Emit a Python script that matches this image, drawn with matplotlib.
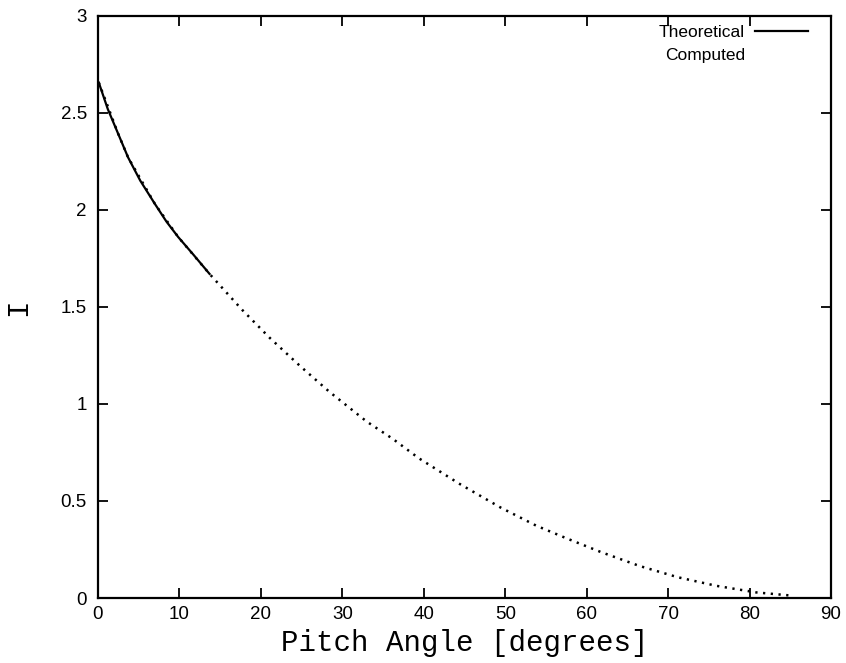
import matplotlib
matplotlib.use("Agg")
import matplotlib.pyplot as plt

# Theoretical curve (small-angle range)
theo_angle = [0.1, 1.2, 2.5, 3.7, 5.2, 7.0, 8.4, 9.85, 11.7, 13.7]
theo_I = [2.656, 2.52, 2.39, 2.27, 2.15, 2.03, 1.94, 1.86, 1.77, 1.67]

# Computed values over the full pitch-angle range
comp_angle = [0.1, 2.5, 3.7, 7.0, 9.85, 13.7, 17.7, 21.1, 24.8, 28.4, 33.0, 36.2,
              39.4, 44.4, 49.4, 53.8, 57.5, 61.8, 66.5, 71.2, 75.9, 80.8, 85.3]
comp_I = [2.656, 2.39, 2.27, 2.03, 1.86, 1.67, 1.485, 1.34, 1.196, 1.063, 0.909, 0.82,
          0.72, 0.588, 0.467, 0.373, 0.308, 0.236, 0.165, 0.107, 0.063, 0.029, 0.012]

x_ticks = [0, 10, 20, 30, 40, 50, 60, 70, 80, 90]
y_ticks = [0, 0.5, 1, 1.5, 2, 2.5, 3]
y_tick_labels = ["0", "0.5", "1", "1.5", "2", "2.5", "3"]

fig = plt.figure(figsize=(8.46, 6.63), dpi=100)
ax = fig.add_axes([0.1158, 0.098, 0.8665, 0.8782])

ax.plot(theo_angle, theo_I, color="black", lw=1.6, solid_joinstyle="round",
        label="Theoretical")
ax.plot(comp_angle, comp_I, color="black", lw=1.8, linestyle=(0, (0.9, 2.2)),
        label="Computed")

ax.set_xlim(0, 90)
ax.set_ylim(0, 3)
ax.set_xticks(x_ticks)
ax.set_yticks(y_ticks)
ax.set_yticklabels(y_tick_labels)

for lab in ax.get_xticklabels() + ax.get_yticklabels():
    lab.set_fontfamily("Liberation Sans")
    lab.set_fontsize(13.5)

ax.tick_params(direction="in", length=7, width=1.3, top=True, right=True,
               color="black")
ax.tick_params(axis="x", pad=6)
ax.tick_params(axis="y", pad=8)
for s in ax.spines.values():
    s.set_linewidth(1.6)

ax.set_xlabel("Pitch Angle [degrees]", family="Liberation Mono", fontsize=21,
              labelpad=4)
ax.set_ylabel("I", family="Liberation Mono", fontsize=21)
ax.yaxis.set_label_coords(-0.09, 0.5)

leg = ax.legend(loc="upper right", frameon=False, markerfirst=False,
                prop={"family": "Liberation Sans", "size": 12.5},
                handlelength=3.05, handletextpad=0.57, labelspacing=0.5,
                borderaxespad=0.3, bbox_to_anchor=(0.985, 1.006))
for t in leg.get_texts():
    t.set_ha("right")
leg.legend_handles[1].set_alpha(0.0)

fig.savefig("out.png", dpi=100)
